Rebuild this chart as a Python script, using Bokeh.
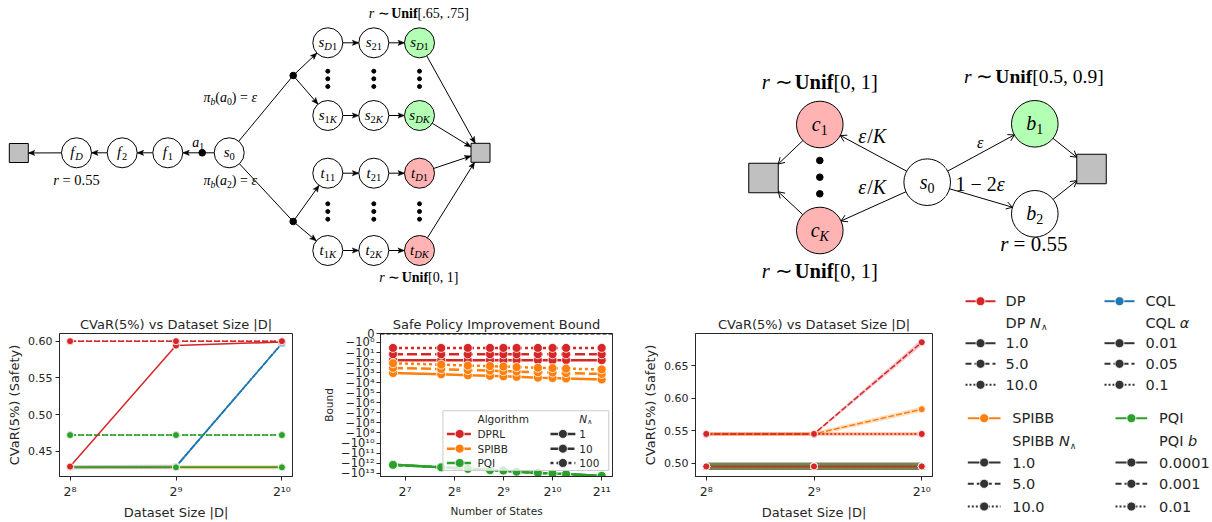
import math
from bokeh.plotting import figure
from bokeh.layouts import row, column
from bokeh.models import (Range1d, FixedTicker, CustomJSTickFormatter,
                          PrintfTickFormatter, Span, LinearScale, ColumnDataSource)
from bokeh.core.properties import value
from bokeh.embed import file_html
from bokeh.resources import INLINE

# ------------------------------------------------------------------ data
dataset_sizes = [256, 512, 1024]

# left CVaR panel (mean values per hyper-parameter)
dp_left = {"1.0": [0.429, 0.594, 0.599], "5.0": [0.600, 0.600, 0.600], "10.0": [0.600, 0.600, 0.600]}
cql_left = {"0.01": [0.428, 0.429, 0.597], "0.05": [0.428, 0.429, 0.597], "0.1": [0.428, 0.429, 0.597]}
spibb_left = {"1.0": [0.428, 0.428, 0.428], "5.0": [0.428, 0.428, 0.428], "10.0": [0.428, 0.428, 0.428]}
pqi_left = {"0.0001": [0.428, 0.428, 0.428], "0.001": [0.472, 0.472, 0.472], "0.01": [0.472, 0.472, 0.472]}
# confidence half-widths
dp_left_ci = {"1.0": [0.0, 0.0, 0.001], "5.0": [0.0, 0.0, 0.0], "10.0": [0.0, 0.0, 0.0]}
cql_left_ci = {"0.01": [0.003, 0.003, 0.001], "0.05": [0.0, 0.0, 0.0], "0.1": [0.0, 0.0, 0.0]}
spibb_left_ci = {"1.0": [0.002, 0.003, 0.003], "5.0": [0.0, 0.0, 0.0], "10.0": [0.0, 0.0, 0.0]}
pqi_left_ci = {"0.0001": [0.002, 0.002, 0.002], "0.001": [0.0, 0.0, 0.0], "0.01": [0.0, 0.0, 0.0]}

# right CVaR panel
dp_right = {"1.0": [0.495, 0.495, 0.495], "5.0": [0.545, 0.545, 0.686], "10.0": [0.545, 0.545, 0.545]}
cql_right = {"0.01": [0.495, 0.495, 0.495], "0.05": [0.495, 0.495, 0.495], "0.1": [0.495, 0.495, 0.495]}
spibb_right = {"1.0": [0.495, 0.495, 0.495], "5.0": [0.545, 0.545, 0.583], "10.0": [0.545, 0.545, 0.545]}
pqi_right = {"0.0001": [0.495, 0.495, 0.495], "0.001": [0.495, 0.495, 0.495], "0.01": [0.495, 0.495, 0.495]}
dp_right_ci = {"1.0": [0.0055, 0.0055, 0.0055], "5.0": [0.002, 0.002, 0.005], "10.0": [0.002, 0.002, 0.002]}
cql_right_ci = {"0.01": [0.0055, 0.0055, 0.0055], "0.05": [0.0055, 0.0055, 0.0055], "0.1": [0.0055, 0.0055, 0.0055]}
spibb_right_ci = {"1.0": [0.0055, 0.0055, 0.0055], "5.0": [0.003, 0.003, 0.004], "10.0": [0.003, 0.003, 0.003]}
pqi_right_ci = {"0.0001": [0.0055, 0.0055, 0.0055], "0.001": [0.0055, 0.0055, 0.0055], "0.01": [0.0055, 0.0055, 0.0055]}

# safe policy improvement bound
n_states = [108, 213, 310, 424, 512, 617, 833, 1024, 1240, 2048]
dprl_bound = {"1": [-58, -58, -58, -58, -58, -58, -58, -58, -58, -58],
              "10": [-15, -15, -15, -15, -15, -15, -15, -15, -15, -15],
              "100": [-3.5, -3.5, -3.5, -3.5, -3.5, -3.5, -3.5, -3.5, -3.5, -3.5]}
spibb_bound = {"1": [-1100, -1480, -1860, -2090, -2340, -2630, -3160, -3390, -3800, -4790],
               "10": [-340, -450, -560, -630, -710, -790, -930, -1000, -1120, -1350],
               "100": [-117, -158, -200, -224, -251, -282, -331, -355, -398, -479]}
pqi_bound = {"1": [-1.48e12, -2.63e12, -3.72e12, -4.9e12, -5.37e12, -7.08e12, -9.33e12, -1.07e13, -1.23e13, -1.86e13],
             "10": [-1.48e12, -2.63e12, -3.72e12, -4.9e12, -5.37e12, -7.08e12, -9.33e12, -1.07e13, -1.23e13, -1.86e13],
             "100": [-1.48e12, -2.63e12, -3.72e12, -4.9e12, -5.37e12, -7.08e12, -9.33e12, -1.07e13, -1.23e13, -1.86e13]}

RED, BLUE, ORANGE, GREEN = "#d62728", "#1f77b4", "#ff7f0e", "#2ca02c"
DARK, INK = "#333333", "#262626"
FONT = "DejaVu Sans"
SERIF = "Liberation Serif"

# ------------------------------------------------------------------ chart helpers
SUP = ('const sup = {"0":"\u2070","1":"\u00b9","2":"\u00b2","3":"\u00b3","4":"\u2074",'
       '"5":"\u2075","6":"\u2076","7":"\u2077","8":"\u2078","9":"\u2079"};')
log2_fmt = CustomJSTickFormatter(code=SUP + """
const e = Math.round(Math.log2(tick));
return "2" + String(e).split("").map(c => sup[c]).join("");
""")
neg_fmt = CustomJSTickFormatter(code=SUP + """
if (tick < 0.5) { return "0"; }
const e = Math.round(Math.log10(tick));
return "\u221210" + String(e).split("").map(c => sup[c]).join("");
""")

ROW_H = 226


def base_fig(width, bl, br, title, tfs, **kw):
    p = figure(width=width, height=ROW_H, output_backend="svg", toolbar_location=None,
               min_border_left=bl, min_border_right=br, min_border_top=37, min_border_bottom=34,
               title=title, **kw)
    p.grid.visible = False
    p.outline_line_color = INK
    p.outline_line_width = 1
    p.background_fill_color = "white"
    p.border_fill_color = "white"
    p.title.align = "center"
    p.title.text_font = FONT
    p.title.text_font_size = tfs
    p.title.text_font_style = "normal"
    p.title.text_color = INK
    p.title.standoff = 4
    return p


def style_axis(ax, tick_fs, label_fs):
    ax.major_label_text_font = FONT
    ax.major_label_text_font_size = tick_fs
    ax.major_label_text_color = INK
    ax.axis_label_text_font = FONT
    ax.axis_label_text_font_size = label_fs
    ax.axis_label_text_font_style = "normal"
    ax.axis_label_text_color = INK
    ax.major_tick_out = 4
    ax.major_tick_in = 0
    ax.major_tick_line_color = INK
    ax.minor_tick_line_color = None
    ax.axis_line_color = INK
    ax.major_label_standoff = 3
    ax.axis_label_standoff = 3


DASH = ["solid", "6 2", "2 2"]


def cvar_panel(width, bl, br, yr, yticks, series):
    p = base_fig(width, bl, br, "CVaR(5%) vs Dataset Size |D|", "13px", x_axis_type="log",
                 x_range=Range1d(2 ** 7.9, 2 ** 10.1), y_range=Range1d(*yr))
    p.xaxis.ticker = FixedTicker(ticks=dataset_sizes)
    p.xaxis.formatter = log2_fmt
    p.yaxis.ticker = FixedTicker(ticks=yticks)
    p.yaxis.formatter = PrintfTickFormatter(format="%.2f")
    p.xaxis.axis_label = "Dataset Size |D|"
    p.yaxis.axis_label = "CVaR(5%) (Safety)"
    style_axis(p.xaxis[0], "12.5px", "13px")
    style_axis(p.yaxis[0], "11px", "13px")
    for color, vals, cis in series:
        for k in vals:
            lo = [v - c for v, c in zip(vals[k], cis[k])]
            hi = [v + c for v, c in zip(vals[k], cis[k])]
            if max(cis[k]) > 0:
                p.varea(x=dataset_sizes, y1=lo, y2=hi, fill_color=color, fill_alpha=0.25)
    for color, vals, cis in series:
        for i, k in enumerate(vals):
            p.line(dataset_sizes, vals[k], line_color=color, line_width=1.5, line_dash=DASH[i])
    for color, vals, cis in series:
        for k in vals:
            p.scatter(dataset_sizes, vals[k], marker="circle", size=7, fill_color=color,
                      line_color="white", line_width=0.8)
    return p


c1 = cvar_panel(320, 59, 28, (0.4155, 0.6105), [0.45, 0.50, 0.55, 0.60],
                [(BLUE, cql_left, cql_left_ci), (ORANGE, spibb_left, spibb_left_ci),
                 (GREEN, pqi_left, pqi_left_ci), (RED, dp_left, dp_left_ci)])
c3 = cvar_panel(305, 54, 13, (0.4795, 0.6995), [0.50, 0.55, 0.60, 0.65],
                [(BLUE, cql_right, cql_right_ci), (ORANGE, spibb_right, spibb_right_ci),
                 (GREEN, pqi_right, pqi_right_ci), (RED, dp_right, dp_right_ci)])

# ---- safe policy improvement bound (magnitudes on a reversed log axis)
top_mag = 10 ** -0.89
c2 = base_fig(320, 59, 28, "Safe Policy Improvement Bound", "13px", x_axis_type="log", y_axis_type="log",
              x_range=Range1d(2 ** 6.5, 2 ** 11.22), y_range=Range1d(10 ** 13.33, top_mag))
c2.xaxis.ticker = FixedTicker(ticks=[128, 256, 512, 1024, 2048])
c2.xaxis.formatter = log2_fmt
c2.yaxis.ticker = FixedTicker(ticks=[top_mag * 1.03] + [10.0 ** k for k in range(14)])
c2.yaxis.formatter = neg_fmt
c2.xaxis.axis_label = "Number of States"
c2.yaxis.axis_label = "Bound"
style_axis(c2.xaxis[0], "12.5px", "10.5px")
style_axis(c2.yaxis[0], "11.5px", "10.5px")
c2.yaxis.major_label_standoff = 2
c2.add_layout(Span(location=top_mag * 1.03, dimension="width", line_color="black",
                   line_dash="4 2", line_width=1.5))
DASH2 = ["solid", "10 4", "3 3"]
algos2 = [(RED, dprl_bound), (ORANGE, spibb_bound), (GREEN, pqi_bound)]
for color, vals in algos2:
    for i, k in enumerate(vals):
        mags = [-v for v in vals[k]]
        c2.line(n_states, mags, line_color=color, line_width=2.5, line_dash=DASH2[i])
        c2.scatter(n_states, mags, marker="circle", size=9, fill_color=color,
                   line_color="white", line_width=0.8)

c2.extra_x_ranges = {"px": Range1d(379.3, 612.3)}
c2.extra_y_ranges = {"py": Range1d(489.0, 333.5)}
c2.extra_x_scales = {"px": LinearScale()}
c2.extra_y_scales = {"py": LinearScale()}
PX = dict(x_range_name="px", y_range_name="py")
c2.quad(left=[442], right=[608.5], top=[417.5], bottom=[482.5], fill_color="white",
        fill_alpha=0.8, line_color="#cccccc", line_width=1, **PX)
leg2_rows = [442.7, 458.7, 474.3]
leg2_txt = dict(x=[], y=[], text=[], style=[], size=[])


def t2(x, y, s, style="normal", size="10.5px"):
    leg2_txt["x"].append(x); leg2_txt["y"].append(y); leg2_txt["text"].append(s)
    leg2_txt["style"].append(style); leg2_txt["size"].append(size)


t2(476.7, 426.0, "Algorithm")
t2(579.0, 426.0, "N", "italic")
t2(587.0, 429.5, "\u2227", "normal", "7px")
for (color, _), name, y in zip(algos2, ["DPRL", "SPIBB", "PQI"], leg2_rows):
    c2.line([446, 471.7], [y, y], line_color=color, line_width=2.5, line_dash="10 4", **PX)
    c2.scatter([458.8], [y], marker="circle", size=9, fill_color=color, line_color="white",
               line_width=0.8, **PX)
    t2(476.7, y, name)
for i, (k, y) in enumerate(zip(list(dprl_bound.keys()), leg2_rows)):
    c2.line([550, 575], [y, y], line_color=DARK, line_width=2.5, line_dash=DASH2[i], **PX)
    c2.scatter([562.5], [y], marker="circle", size=9, fill_color=DARK, line_color="white",
               line_width=0.8, **PX)
    t2(579.0, y, k)
c2.text(x="x", y="y", text="text", text_font_style="style", text_font_size="size",
        text_font=value(FONT), text_color=INK, text_align="left", text_baseline="middle",
        source=ColumnDataSource(leg2_txt), **PX)

# ------------------------------------------------------------------ diagrams (reference pixel space)
CW = {"a": .5, "b": .5, "c": .444, "d": .5, "e": .444, "f": .333, "i": .278, "n": .5, "r": .389,
      "s": .389, "t": .278, "D": .722, "K": .667, "U": .722, " ": .25, ".": .25, ",": .25,
      "[": .333, "]": .333, "(": .333, ")": .333, "=": .564, "\u223c": .72, "/": .278,
      "\u2212": .564, "\u03b5": .44, "\u03c0": .5}
BW = {"U": .722, "n": .556, "i": .278, "f": .333}


def em_width(s, bold=False):
    return sum((BW if bold else CW).get(ch, .5) for ch in s)


def math_recs(x, y, segs, fs, dy=0.0):
    """segs: list of (text, kind); kind i/r/b, prefixed by '_' for subscript."""
    def em(t, k):
        f = 0.7 if k.startswith("_") else 1.0
        return em_width(t, k.endswith("b")) * f
    total_em = sum(em(t, k) for t, k in segs)
    cur = x - total_em * fs / 2
    recs = []
    for t, k in segs:
        sub = k.startswith("_")
        size = fs * (0.7 if sub else 1.0)
        style = {"i": "italic", "r": "normal", "b": "bold"}[k[-1]]
        lead = len(t) - len(t.lstrip(" "))
        recs.append((cur + em(" " * lead, k) * fs, y + dy + (0.3 * fs if sub else 0.0),
                     t.strip(" "), style, "%.1fpx" % size, SERIF))
        cur += em(t, k) * fs
    return recs


def sub_segs(sub):
    return [(ch, "_r" if ch.isdigit() else "_i") for ch in sub]


shapes = {"circles": [], "dots": [], "squares": [], "lines": [], "filled_heads": [], "open_heads": []}
texts = []

# ---- left MDP diagram
R1 = 15.0
left_nodes = {"fD": (76.0, 152.3, "f", "D", "white"), "f2": (121.7, 152.3, "f", "2", "white"),
              "f1": (167.3, 152.3, "f", "1", "white"), "s0": (228.7, 152.3, "s", "0", "white")}
gcols = [327.3, 373.3, 419.0]
grows = [42.3, 115.0, 172.7, 250.0]
glabels = [[("s", "D1"), ("s", "21"), ("s", "D1")], [("s", "1K"), ("s", "2K"), ("s", "DK")],
           [("t", "11"), ("t", "21"), ("t", "D1")], [("t", "1K"), ("t", "2K"), ("t", "DK")]]
gfill = ["#b3ffb3", "#b3ffb3", "#ffb3b3", "#ffb3b3"]
for r, yy in enumerate(grows):
    for c, xx in enumerate(gcols):
        b, s = glabels[r][c]
        left_nodes["g%d%d" % (r, c)] = (xx, yy, b, s, gfill[r] if c == 2 else "white")

LSQ = (18.3, 152.5, 9.5)
RSQ = (480.0, 152.3, 9.5)
A1 = (201.7, 152.3)
UP = (292.7, 75.0)
LO = (292.7, 221.0)


def sq_dist(ux, uy, h):
    cands = []
    if abs(ux) > 1e-9:
        cands.append(h / abs(ux))
    if abs(uy) > 1e-9:
        cands.append(h / abs(uy))
    return min(cands)


def edge(p0, p1, d0, d1, head=None, sq_end=None):
    dx, dy = p1[0] - p0[0], p1[1] - p0[1]
    L = math.hypot(dx, dy)
    ux, uy = dx / L, dy / L
    if sq_end is not None:
        d1 = sq_dist(ux, uy, sq_end)
    sx, sy = p0[0] + ux * d0, p0[1] + uy * d0
    ex, ey = p1[0] - ux * d1, p1[1] - uy * d1
    shapes["lines"].append(([sx, ex], [sy, ey]))
    if head == "filled":
        shapes["filled_heads"].append((ex, ey, ux, uy))
    elif head == "open":
        shapes["open_heads"].append((ex, ey, ux, uy))


def pos(n):
    return left_nodes[n][0], left_nodes[n][1]


edge(pos("s0"), A1, R1, 0)
edge(A1, pos("f1"), 0, R1, "filled")
edge(pos("f1"), pos("f2"), R1, R1, "filled")
edge(pos("f2"), pos("fD"), R1, R1, "filled")
edge(pos("fD"), LSQ[:2], R1, 0, "filled", sq_end=LSQ[2])
edge(pos("s0"), UP, R1, 0)
edge(pos("s0"), LO, R1, 0)
edge(UP, pos("g00"), 0, R1, "filled")
edge(UP, pos("g10"), 0, R1, "filled")
edge(LO, pos("g20"), 0, R1, "filled")
edge(LO, pos("g30"), 0, R1, "filled")
for r in range(4):
    edge(pos("g%d0" % r), pos("g%d1" % r), R1, R1, "filled")
    edge(pos("g%d1" % r), pos("g%d2" % r), R1, R1, "filled")
    edge(pos("g%d2" % r), RSQ[:2], R1, 0, "filled", sq_end=RSQ[2])

for n, (xx, yy, b, s, fill) in left_nodes.items():
    shapes["circles"].append((xx, yy, R1, fill))
    texts.extend(math_recs(xx, yy, [(b, "i")] + sub_segs(s), fs=15, dy=-0.5))
shapes["squares"].extend([LSQ, RSQ])
for d in (A1, UP, LO):
    shapes["dots"].append((d[0], d[1], 3.3))
for xx in gcols:
    for yy in (70.7, 78.3, 86.0, 203.3, 211.0, 218.7):
        shapes["dots"].append((xx, yy, 2.0))

unif = lambda rng: [("r", "i"), (" \u223c ", "r"), ("Unif", "b"), (rng, "r")]
texts.extend(math_recs(418.3, 12.7, unif("[.65, .75]"), fs=14))
texts.extend(math_recs(418.3, 276.7, unif("[0, 1]"), fs=14))
texts.extend(math_recs(76.0, 179.0, [("r", "i"), (" = 0.55", "r")], fs=14.5))
texts.extend(math_recs(230.0, 96.7, [("\u03c0", "i"), ("b", "_i"), ("(", "r"), ("a", "i"), ("0", "_r"),
                                     (") = ", "r"), ("\u03b5", "i")], fs=14))
texts.extend(math_recs(230.0, 180.0, [("\u03c0", "i"), ("b", "_i"), ("(", "r"), ("a", "i"), ("2", "_r"),
                                      (") = ", "r"), ("\u03b5", "i")], fs=14))
texts.extend(math_recs(197.7, 141.7, [("a", "i"), ("1", "_r")], fs=14))

# ---- right MDP diagram
R2 = 23.3
right_nodes = {"c1": (819.3, 124.0, "c", "1", "#ffb3b3"), "cK": (819.3, 230.0, "c", "K", "#ffb3b3"),
               "s0": (926.7, 181.7, "s", "0", "white"), "b1": (1034.3, 123.3, "b", "1", "#b3ffb3"),
               "b2": (1034.3, 213.3, "b", "2", "white")}
LSQ2 = (763.0, 177.5, 14.75)
RSQ2 = (1091.0, 168.5, 14.75)
rp = lambda n: (right_nodes[n][0], right_nodes[n][1])
edge(rp("s0"), rp("c1"), R2, R2, "open")
edge(rp("s0"), rp("cK"), R2, R2, "open")
edge(rp("c1"), LSQ2[:2], R2, 0, "open", sq_end=LSQ2[2])
edge(rp("cK"), LSQ2[:2], R2, 0, "open", sq_end=LSQ2[2])
edge(rp("s0"), rp("b1"), R2, R2, "open")
edge(rp("s0"), rp("b2"), R2, R2, "open")
edge(rp("b1"), RSQ2[:2], R2, 0, "open", sq_end=RSQ2[2])
edge(rp("b2"), RSQ2[:2], R2, 0, "open", sq_end=RSQ2[2])
for n, (xx, yy, b, s, fill) in right_nodes.items():
    shapes["circles"].append((xx, yy, R2, fill))
    texts.extend(math_recs(xx, yy, [(b, "i")] + sub_segs(s), fs=20, dy=-0.5))
shapes["squares"].extend([LSQ2, RSQ2])
for yy in (160.0, 176.7, 193.3):
    shapes["dots"].append((819.3, yy, 3.3))
texts.extend(math_recs(819.3, 81.7, unif("[0, 1]"), fs=20.5))
texts.extend(math_recs(819.3, 270.0, unif("[0, 1]"), fs=20.5))
texts.extend(math_recs(1033.3, 75.7, unif("[0.5, 0.9]"), fs=19.5))
texts.extend(math_recs(1033.3, 243.3, [("r", "i"), (" = 0.55", "r")], fs=21))
texts.extend(math_recs(871.7, 135.0, [("\u03b5", "i"), ("/", "r"), ("K", "i")], fs=20))
texts.extend(math_recs(871.7, 186.7, [("\u03b5", "i"), ("/", "r"), ("K", "i")], fs=20))
texts.extend(math_recs(980.0, 141.7, [("\u03b5", "i")], fs=16))
texts.extend(math_recs(980.0, 183.3, [("1 \u2212 2", "r"), ("\u03b5", "i")], fs=20))


def draw_diagrams(p, xmin, xmax):
    for xs, ys in shapes["lines"]:
        p.line(xs, ys, line_color="black", line_width=1.0)
    for ex, ey, ux, uy in shapes["filled_heads"]:
        L, W = 6.5, 2.6
        bx, by = ex - ux * L, ey - uy * L
        p.patch([ex, bx - uy * W, bx + ux * 1.5, bx + uy * W],
                [ey, by + ux * W, by + uy * 1.5, by - ux * W],
                fill_color="black", line_color="black", line_width=0.5)
    for ex, ey, ux, uy in shapes["open_heads"]:
        L, W = 6.0, 3.6
        bx, by = ex - ux * L, ey - uy * L
        p.multi_line([[bx - uy * W, ex, bx + uy * W]], [[by + ux * W, ey, by - ux * W]],
                     line_color="black", line_width=1.0)
    for xx, yy, h in shapes["squares"]:
        p.quad(left=[xx - h], right=[xx + h], top=[yy - h], bottom=[yy + h],
               fill_color="#c0c0c0", line_color="black", line_width=1.0)
    p.circle(x=[c[0] for c in shapes["circles"]], y=[c[1] for c in shapes["circles"]],
             radius=[c[2] for c in shapes["circles"]],
             radius_dimension="x", fill_color=[c[3] for c in shapes["circles"]],
             line_color="black", line_width=1.0)
    p.circle(x=[d[0] for d in shapes["dots"]], y=[d[1] for d in shapes["dots"]],
             radius=[d[2] for d in shapes["dots"]], radius_dimension="x",
             fill_color="black", line_color="black")
    sel = [t for t in texts if xmin <= t[0] < xmax]
    if sel:
        src = ColumnDataSource(dict(x=[t[0] for t in sel], y=[t[1] for t in sel], text=[t[2] for t in sel],
                                    style=[t[3] for t in sel], size=[t[4] for t in sel],
                                    font=[t[5] for t in sel]))
        p.text(x="x", y="y", text="text", text_font="font", text_font_style="style",
               text_font_size="size", text_align="left", text_baseline="middle",
               text_color="black", source=src)


def blank_fig(width, height, xr, yr):
    p = figure(width=width, height=height, x_range=Range1d(*xr), y_range=Range1d(*yr),
               output_backend="svg", toolbar_location=None,
               x_axis_location=None, y_axis_location=None)
    p.min_border = 0
    p.min_border_left = p.min_border_right = p.min_border_top = p.min_border_bottom = 0
    p.grid.visible = False
    p.outline_line_color = None
    p.background_fill_color = "white"
    p.border_fill_color = "white"
    return p


top = blank_fig(945, 296, (0, 945), (296, 0))
draw_diagrams(top, 0, 945)
side = blank_fig(267, 522, (945, 1212), (522, 0))
draw_diagrams(side, 945, 1212)

# ---- shared legend (right column)
legend_blocks = [("DP", RED, list(dp_left.keys()), "N", "\u2227", 965.0, 995.0, 1005.0,
                  [300.7, 322.3, 342.7, 363.3, 384.3]),
                 ("CQL", BLUE, list(cql_left.keys()), "\u03b1", "", 1104.0, 1134.0, 1145.0,
                  [300.7, 322.3, 342.7, 363.3, 384.3]),
                 ("SPIBB", ORANGE, list(spibb_left.keys()), "N", "\u2227", 967.3, 1000.0, 1011.7,
                  [417.7, 440.7, 462.0, 483.3, 506.0]),
                 ("PQI", GREEN, list(pqi_left.keys()), "b", "", 1115.0, 1146.7, 1158.5,
                  [417.7, 440.7, 462.0, 483.3, 506.0])]
DJW = {"D": .770, "P": .603, "C": .698, "Q": .787, "L": .557, "S": .635, "I": .295, "B": .686, " ": .318}
LFS = 14.5
leg = dict(x=[], y=[], text=[], style=[], size=[])


def lt(x, y, s, style="normal", size=LFS):
    leg["x"].append(x); leg["y"].append(y); leg["text"].append(s)
    leg["style"].append(style); leg["size"].append("%.1fpx" % size)


LDASH = ["solid", "6 3", "2 2"]
for name, color, params, sym, sub, hx0, hx1, tx, ys in legend_blocks:
    side.line([hx0, hx1], [ys[0], ys[0]], line_color=color, line_width=2)
    side.scatter([(hx0 + hx1) / 2], [ys[0]], marker="circle", size=9, fill_color=color,
                 line_color="white", line_width=0.8)
    lt(tx, ys[0], name)
    lt(tx, ys[1], name)
    sx = tx + sum(DJW.get(ch, .6) for ch in name + " ") * LFS
    lt(sx, ys[1], sym, "italic")
    if sub:
        lt(sx + 0.75 * LFS, ys[1] + 4.5, sub, "normal", 9)
    for i, (prm, y) in enumerate(zip(params, ys[2:])):
        side.line([hx0, hx1], [y, y], line_color=DARK, line_width=2, line_dash=LDASH[i])
        side.scatter([(hx0 + hx1) / 2], [y], marker="circle", size=9, fill_color=DARK,
                     line_color="white", line_width=0.8)
        lt(tx, y, prm)
side.text(x="x", y="y", text="text", text_font_style="style", text_font_size="size",
          text_font=value(FONT), text_color=INK, text_align="left", text_baseline="middle",
          source=ColumnDataSource(leg))

layout = row(column(top, row(c1, c2, c3)), side)
open("out.html", "w").write(file_html(layout, INLINE))
